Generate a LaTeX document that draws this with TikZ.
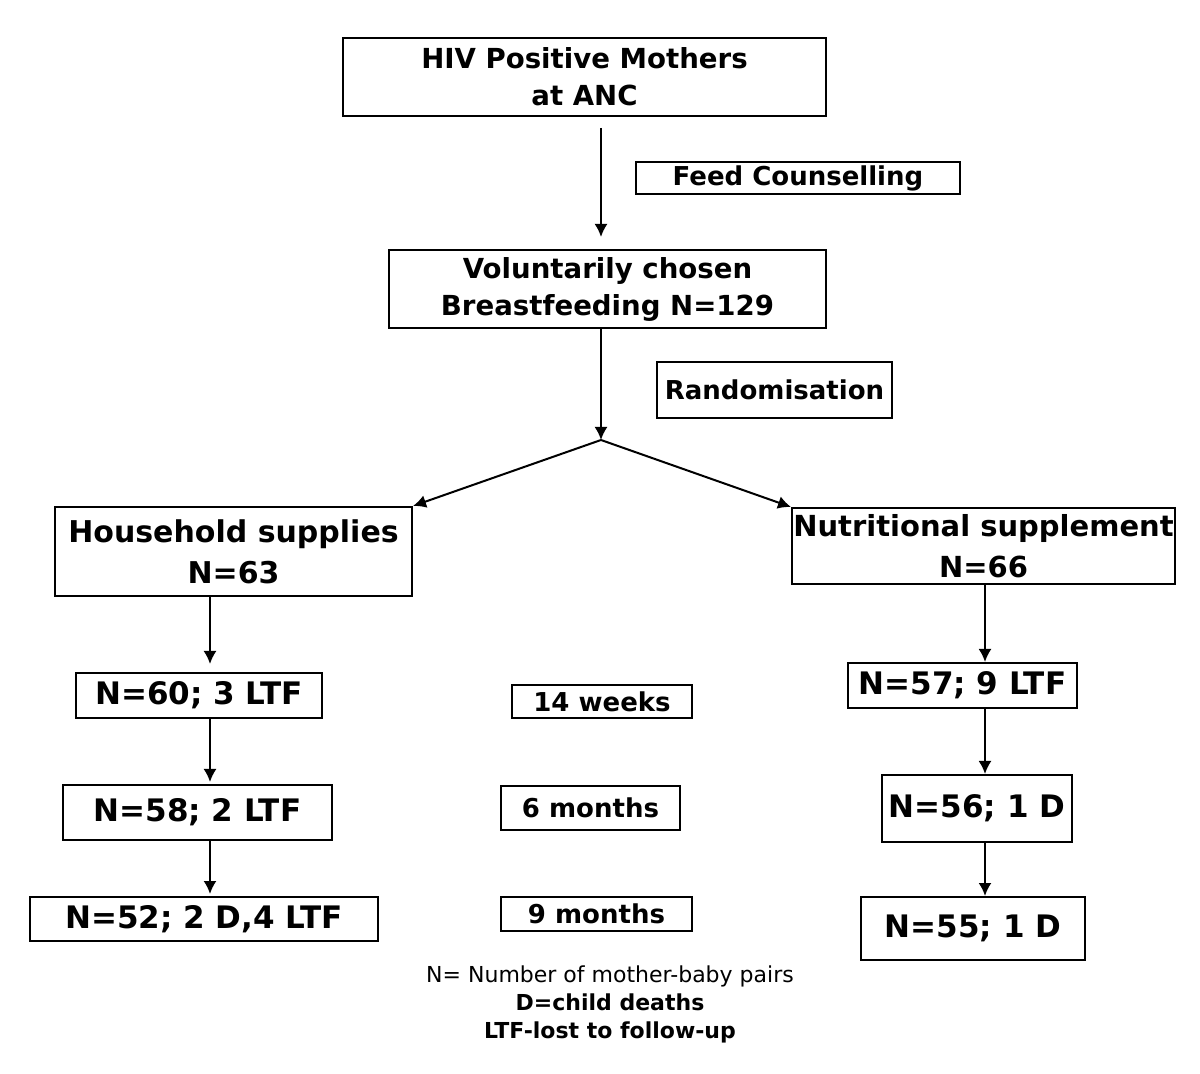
\documentclass[tikz,border=0pt]{standalone}
\usepackage{fontspec}
\setmainfont{DejaVu Sans}
\usetikzlibrary{arrows.meta}

\tikzset{
  box/.style={draw, line width=1pt, inner sep=0pt, align=center},
  boxsize/.style 2 args={minimum width=#1pt, minimum height=#2pt},
  headtext/.style={font=\bfseries\fontsize{13.8}{18.5}\selectfont},
  armtext/.style={font=\bfseries\fontsize{14.5}{20.5}\selectfont},
  stagetext/.style={font=\bfseries\fontsize{15.5}{18}\selectfont},
  timetext/.style={font=\bfseries\fontsize{13}{16}\selectfont},
  arr/.style={-{Latex[length=6.5pt,width=6.5pt]}, line width=1pt},
}

\begin{document}
\begin{tikzpicture}[x=0.5pt,y=-0.5pt]
\useasboundingbox (0,0) rectangle (1200,1074);
\coordinate (split) at (601,440);
\coordinate (colL) at (210,0);
\coordinate (colR) at (985,0);

% top of the flow
\node[box, headtext, boxsize={241.5}{39}] (hiv) at (584.5,77) {HIV Positive Mothers\\at ANC};
\node[box, timetext, boxsize={162}{16}] (feed) at (798,178) {Feed Counselling};
\node[box, headtext, boxsize={218.5}{39}] (vol) at (607.5,289) {Voluntarily chosen\\Breastfeeding N=129};
\node[box, timetext, boxsize={117.5}{28}] (rand) at (774.5,390) {Randomisation};

% the two arms
\node[box, armtext, font=\bfseries\fontsize{15}{20.5}\selectfont, boxsize={178.5}{44.5}] (house) at (233.5,551.5) {Household supplies\\N=63};
\node[box, armtext, boxsize={191.5}{38}] (nutr) at (983.5,546) {Nutritional supplement\\N=66};

% follow-up, household arm
\node[box, stagetext, boxsize={123}{22.5}] (n60) at (199,695.5) {N=60; 3 LTF};
\node[box, stagetext, boxsize={134.5}{27.5}] (n58) at (197.5,812.5) {N=58; 2 LTF};
\node[box, stagetext, boxsize={174}{22}] (n52) at (204,919) {N=52; 2 D,4 LTF};

% time points
\node[box, timetext, boxsize={90}{16.5}] (wk14) at (602,701.5) {14 weeks};
\node[box, timetext, boxsize={89.5}{22}] (mo6) at (590.5,808) {6 months};
\node[box, timetext, boxsize={95.5}{17}] (mo9) at (596.5,914) {9 months};

% follow-up, nutritional arm
\node[box, stagetext, boxsize={114.5}{22.5}] (n57) at (962.5,685.5) {N=57; 9 LTF};
\node[box, stagetext, boxsize={95}{33.5}] (n56) at (977,808.5) {N=56; 1 D};
\node[box, stagetext, boxsize={112}{31.5}] (n55) at (973,928.5) {N=55; 1 D};

\node[align=center, font=\fontsize{11}{14}\selectfont] (legend) at (610,1004)
  {N= Number of mother-baby pairs\\\textbf{D=child deaths}\\\textbf{LTF-lost to follow-up}};

\draw[arr, shorten <=5.5pt, shorten >=6pt] (hiv.south -| split) -- (vol.north -| split);
\draw[arr] (vol.south -| split) -- (split);
\draw[arr] (split) -- (house.north east);
\draw[arr] (split) -- (nutr.north west);

\draw[arr, shorten >=4pt] (house.south -| colL) -- (n60.north -| colL);
\draw[arr, shorten >=1pt] (n60.south -| colL) -- (n58.north -| colL);
\draw[arr, shorten >=1pt] (n58.south -| colL) -- (n52.north -| colL);

\draw[arr] (nutr.south -| colR) -- (n57.north -| colR);
\draw[arr] (n57.south -| colR) -- (n56.north -| colR);
\draw[arr] (n56.south -| colR) -- (n55.north -| colR);
\end{tikzpicture}
\end{document}
